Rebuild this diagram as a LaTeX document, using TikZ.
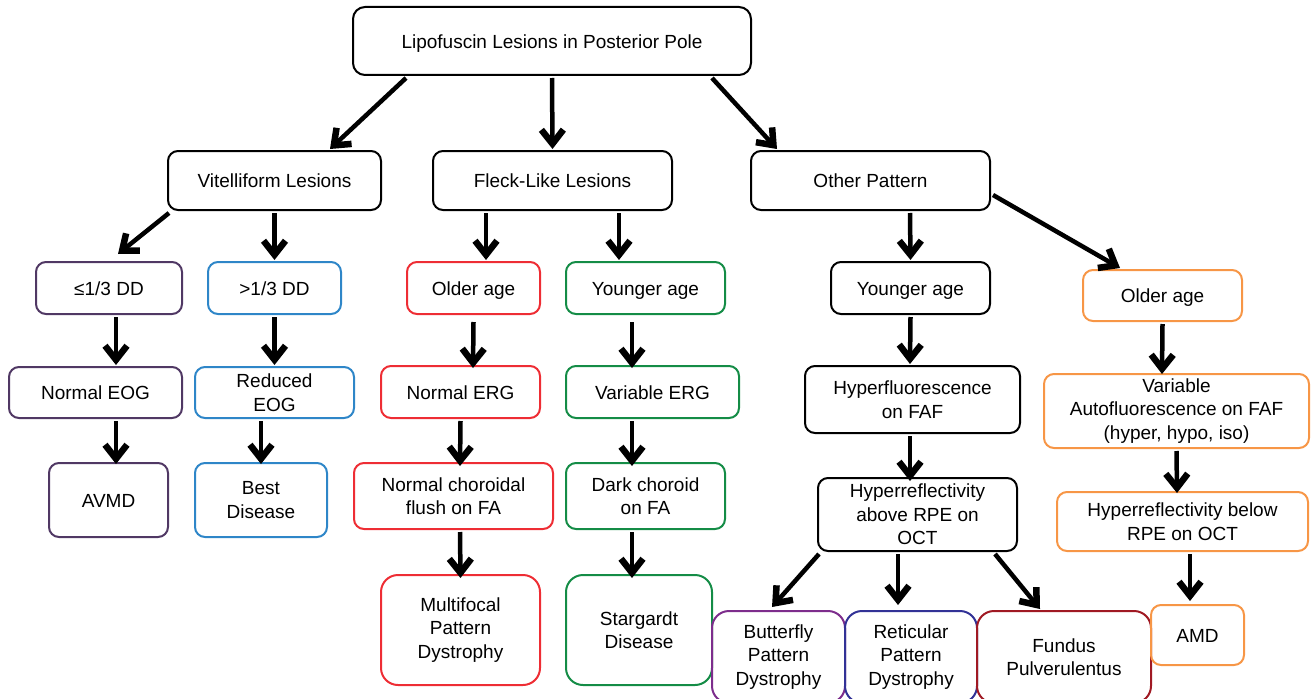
\documentclass[tikz,border=0pt]{standalone}
\usepackage{fontspec}
\setmainfont{Liberation Sans}
\usetikzlibrary{arrows.meta}
\definecolor{cPurpleD}{RGB}{80,56,100}
\definecolor{cBlue}{RGB}{46,134,200}
\definecolor{cRed}{RGB}{238,45,52}
\definecolor{cGreen}{RGB}{20,140,70}
\definecolor{cOrange}{RGB}{247,150,70}
\definecolor{cPurple}{RGB}{125,45,140}
\definecolor{cNavy}{RGB}{50,50,150}
\definecolor{cDRed}{RGB}{160,25,35}
\begin{document}
\begin{tikzpicture}[x=1pt,y=-1pt,
  box/.style={draw=black, line width=2pt, rounded corners=10pt, inner sep=0pt,
    align=center, font=\fontsize{19}{23.5}\selectfont, text=black},
  one/.style={text height=14.5pt, text depth=0pt},
  big/.style={rounded corners=17pt},
  arr/.style={line width=4.5pt, -{Straight Barb[length=14pt,width=22pt,line width=6.5pt]}}]
\useasboundingbox (0,0) rectangle (1313,698);
% level 0
\node[box, one, rounded corners=12pt, minimum width=398pt, minimum height=68pt] (root) at (552,41) {Lipofuscin Lesions in Posterior Pole};
% level 1
\node[box, one, minimum width=213pt, minimum height=59pt] (vit) at (274.5,180.5) {Vitelliform Lesions};
\node[box, one, minimum width=239pt, minimum height=59pt] (fleck) at (552.5,180.5) {Fleck-Like Lesions};
\node[box, one, minimum width=239pt, minimum height=59pt] (other) at (870.5,180.5) {Other Pattern};
% level 2
\node[box, one, draw=cPurpleD, minimum width=146pt, minimum height=52pt] (le) at (109,288) {≤1/3 DD};
\node[box, one, draw=cBlue, minimum width=133pt, minimum height=52pt] (gt) at (274.5,288) {>1/3 DD};
\node[box, one, draw=cRed, minimum width=133pt, minimum height=52pt] (older) at (473.5,288) {Older age};
\node[box, one, draw=cGreen, minimum width=159pt, minimum height=52pt] (younger) at (645.5,288) {Younger age};
\node[box, one, minimum width=159pt, minimum height=52pt] (yb) at (910.5,288) {Younger age};
\node[box, one, draw=cOrange, minimum width=159pt, minimum height=51pt] (oo) at (1162.5,295.5) {Older age};
% level 3
\node[box, one, draw=cPurpleD, minimum width=173pt, minimum height=51pt] (neog) at (95.5,392.5) {Normal EOG};
\node[box, draw=cBlue, minimum width=159pt, minimum height=51pt] (reog) at (274.5,392.5) {Reduced\\EOG};
\node[box, one, draw=cRed, minimum width=159pt, minimum height=52pt] (nerg) at (460.5,392) {Normal ERG};
\node[box, one, draw=cGreen, minimum width=173pt, minimum height=52pt] (verg) at (652.5,392) {Variable ERG};
\node[box, minimum width=215pt, minimum height=67pt] (hyf) at (912.5,399.5) {Hyperfluorescence\\on FAF};
\node[box, draw=cOrange, minimum width=265pt, minimum height=74pt] (vaf) at (1176.5,411) {Variable\\Autofluorescence on FAF\\(hyper, hypo, iso)};
% level 4
\node[box, one, draw=cPurpleD, minimum width=119pt, minimum height=74pt] (avmd) at (108.5,500) {AVMD};
\node[box, draw=cBlue, minimum width=132pt, minimum height=74pt] (best) at (261,500) {Best\\Disease};
\node[box, draw=cRed, minimum width=199pt, minimum height=66pt] (ncf) at (453.5,496) {Normal choroidal\\flush on FA};
\node[box, draw=cGreen, minimum width=159pt, minimum height=66pt] (dc) at (645.5,496) {Dark choroid\\on FA};
\node[box, minimum width=199pt, minimum height=73pt] (hab) at (917.5,514.5) {Hyperreflectivity\\above RPE on\\OCT};
\node[box, draw=cOrange, minimum width=251pt, minimum height=59pt] (hbe) at (1182.5,521.5) {Hyperreflectivity below\\RPE on OCT};
% level 5
\node[box, big, draw=cRed, minimum width=159pt, minimum height=110pt] (multi) at (460.5,630) {Multifocal\\Pattern\\Dystrophy};
\node[box, big, draw=cGreen, minimum width=146pt, minimum height=110pt] (star) at (639,630) {Stargardt\\Disease};
\node[box, big, draw=cPurple, minimum width=133pt, minimum height=92pt] (bfly) at (778.5,657) {Butterfly\\Pattern\\Dystrophy};
\node[box, big, draw=cNavy, minimum width=132pt, minimum height=92pt] (ret) at (911,657) {Reticular\\Pattern\\Dystrophy};
\node[box, big, draw=cDRed, minimum width=174pt, minimum height=92pt] (fund) at (1064,657) {Fundus\\Pulverulentus};
\node[box, one, draw=cOrange, minimum width=93pt, minimum height=60pt] (amd) at (1197.5,635) {AMD};
% arrows
\draw[arr] ([xshift=-146pt,yshift=-2pt]root.south) -- ([xshift=55.5pt,yshift=1pt]vit.north);
\draw[arr] ([yshift=-2pt]root.south) -- ([yshift=1pt]fleck.north);
\draw[arr] ([xshift=160pt,yshift=-2pt]root.south) -- ([xshift=-93.5pt,yshift=1pt]other.north);
\draw[arr] ([xshift=2pt,yshift=-2pt]vit.south west) -- ([xshift=9pt,yshift=7pt]le.north);
\draw[arr] ([yshift=-2pt]vit.south) -- ([yshift=1pt]gt.north);
\draw[arr] ([xshift=-66.5pt,yshift=-2pt]fleck.south) -- ([xshift=12.5pt,yshift=1pt]older.north);
\draw[arr] ([xshift=66.5pt,yshift=-2pt]fleck.south) -- ([xshift=-26.5pt,yshift=1pt]younger.north);
\draw[arr] ([xshift=39.5pt,yshift=-2pt]other.south) -- ([yshift=1pt]yb.north);
\draw[arr] ([xshift=2pt,yshift=-14.5pt]other.east) -- ([xshift=-42.5pt,yshift=1pt]oo.north);
\draw[arr] ([xshift=7pt,yshift=-2pt]le.south) -- ([xshift=20.5pt,yshift=1pt]neog.north);
\draw[arr] ([yshift=-2pt]gt.south) -- ([yshift=1pt]reog.north);
\draw[arr] ([yshift=-7pt]older.south) -- ([xshift=12.5pt,yshift=-3pt]nerg.north);
\draw[arr] ([xshift=-13.5pt,yshift=-7pt]younger.south) -- ([xshift=-20.5pt,yshift=-3pt]verg.north);
\draw[arr] ([yshift=-2pt]yb.south) -- ([xshift=-2.5pt,yshift=1pt]hyf.north);
\draw[arr] ([yshift=-2pt]oo.south) -- ([xshift=-14.5pt,yshift=-1pt]vaf.north);
\draw[arr] ([xshift=20.5pt,yshift=-2pt]neog.south) -- ([xshift=7.5pt,yshift=-2pt]avmd.north);
\draw[arr] ([xshift=-13.5pt,yshift=-2pt]reog.south) -- ([yshift=-2pt]best.north);
\draw[arr] ([yshift=-2pt]nerg.south) -- ([xshift=6.5pt,yshift=-4pt]ncf.north);
\draw[arr] ([xshift=-20.5pt,yshift=-2pt]verg.south) -- ([xshift=-13.5pt,yshift=-4pt]dc.north);
\draw[arr] ([xshift=-2.5pt,yshift=-2pt]hyf.south) -- ([xshift=-7.5pt,yshift=-4pt]hab.north);
\draw[arr] ([yshift=-2pt]vaf.south) -- ([xshift=-5.5pt,yshift=-2pt]hbe.north);
\draw[arr] ([xshift=6.5pt,yshift=-2pt]ncf.south) -- ([yshift=-4pt]multi.north);
\draw[arr] ([xshift=-13.5pt,yshift=-2pt]dc.south) -- ([xshift=-7pt,yshift=-4pt]star.north);
\draw[arr] ([xshift=2pt,yshift=-2pt]hab.south west) -- ([xshift=-6.5pt,yshift=3pt]bfly.north);
\draw[arr] ([xshift=-19.5pt,yshift=-2pt]hab.south) -- ([xshift=-13pt,yshift=5pt]ret.north);
\draw[arr] ([xshift=77.5pt,yshift=-2pt]hab.south) -- ([xshift=-24pt,yshift=1pt]fund.north);
\draw[arr] ([xshift=7.5pt,yshift=-2pt]hbe.south) -- ([xshift=-7.5pt,yshift=3pt]amd.north);
\end{tikzpicture}
\end{document}
